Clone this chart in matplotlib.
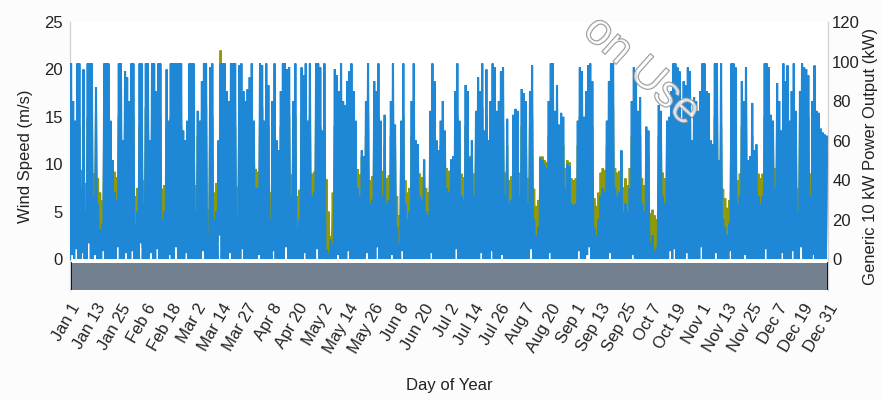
import numpy as np
import matplotlib
matplotlib.use("Agg")
import matplotlib.pyplot as plt
import matplotlib.patheffects as pe

plt.rcParams['font.family'] = ['Liberation Sans', 'DejaVu Sans']

# ---- data (daily readings, days 0..364) ----
# daily peak of power output (kW)
power_hi = [
    99, 80, 70, 99, 99, 36, 96, 24, 99, 99,
    99, 32, 87, 28, 15, 18, 99, 99, 99, 70,
    50, 34, 30, 99, 99, 60, 95, 92, 80, 99,
    99, 18, 24, 99, 99, 28, 99, 99, 60, 99,
    99, 85, 99, 99, 20, 24, 96, 70, 99, 99,
    99, 99, 99, 99, 65, 60, 70, 99, 99, 99,
    24, 75, 70, 90, 99, 99, 12, 97, 99, 20,
    24, 60, 99, 99, 99, 85, 80, 99, 99, 99,
    20, 98, 99, 85, 80, 86, 92, 99, 70, 36,
    36, 99, 98, 70, 99, 88, 20, 80, 99, 60,
    55, 85, 99, 99, 96, 97, 32, 80, 99, 16,
    20, 97, 93, 99, 70, 99, 32, 34, 99, 99,
    97, 65, 99, 5, 3, 10, 8, 96, 93, 85,
    99, 80, 78, 90, 95, 99, 85, 70, 36, 32,
    55, 52, 80, 99, 28, 30, 90, 85, 99, 70,
    32, 73, 28, 30, 80, 99, 68, 16, 8, 70,
    99, 28, 20, 24, 80, 99, 60, 58, 32, 30,
    50, 24, 22, 75, 99, 90, 60, 55, 70, 80,
    65, 36, 34, 50, 52, 85, 99, 70, 32, 30,
    88, 85, 51, 60, 32, 75, 92, 85, 99, 65,
    96, 60, 80, 99, 97, 75, 80, 95, 97, 32,
    71, 28, 30, 73, 76, 75, 32, 86, 84, 80,
    28, 85, 98, 20, 12, 16, 51, 50, 48, 46,
    80, 99, 99, 75, 88, 68, 74, 72, 36, 48,
    47, 28, 27, 28, 70, 97, 95, 72, 85, 98,
    99, 90, 16, 12, 20, 32, 36, 34, 70, 90,
    99, 99, 36, 32, 34, 55, 24, 28, 24, 36,
    80, 97, 95, 75, 82, 28, 24, 67, 65, 8,
    12, 4, 6, 78, 75, 32, 28, 70, 72, 85,
    99, 99, 97, 95, 70, 90, 88, 97, 95, 60,
    82, 80, 75, 85, 99, 99, 85, 84, 60, 58,
    99, 99, 50, 99, 20, 16, 12, 18, 99, 99,
    97, 28, 32, 90, 80, 97, 50, 52, 79, 55,
    58, 32, 28, 32, 99, 99, 97, 73, 70, 36,
    89, 80, 65, 99, 90, 98, 70, 85, 99, 75,
    24, 85, 99, 97, 96, 93, 32, 80, 98, 75,
    74, 66, 64, 63, 62,
]
# daily minimum of power output (kW)
power_lo = [
    0, 2, 0, 5, 0, 0, 3, 0, 0, 8,
    0, 0, 2, 0, 0, 0, 4, 0, 0, 0,
    0, 0, 0, 6, 0, 0, 0, 3, 0, 0,
    4, 0, 0, 0, 8, 0, 0, 0, 0, 3,
    0, 0, 5, 0, 0, 0, 0, 0, 2, 0,
    0, 6, 0, 0, 0, 0, 3, 0, 0, 0,
    0, 0, 0, 0, 4, 0, 0, 0, 0, 0,
    0, 0, 12, 0, 0, 0, 0, 3, 0, 0,
    0, 0, 0, 5, 0, 0, 0, 0, 0, 0,
    0, 2, 0, 0, 0, 0, 0, 0, 4, 0,
    0, 0, 0, 0, 6, 0, 0, 0, 0, 0,
    0, 0, 0, 3, 0, 0, 0, 0, 0, 5,
    0, 0, 0, 0, 0, 0, 0, 0, 0, 2,
    0, 0, 0, 0, 4, 0, 0, 0, 0, 0,
    0, 0, 0, 3, 0, 0, 0, 0, 6, 0,
    0, 0, 0, 0, 0, 2, 0, 0, 0, 0,
    4, 0, 0, 0, 0, 0, 0, 0, 0, 0,
    0, 0, 0, 0, 3, 0, 0, 0, 0, 0,
    0, 0, 0, 0, 0, 0, 5, 0, 0, 0,
    0, 0, 0, 0, 0, 0, 0, 0, 3, 0,
    0, 0, 0, 4, 0, 0, 0, 0, 2, 0,
    0, 0, 0, 0, 0, 0, 0, 0, 0, 0,
    0, 0, 5, 0, 0, 0, 0, 0, 0, 0,
    0, 3, 0, 0, 0, 0, 0, 0, 0, 0,
    0, 0, 0, 0, 0, 4, 0, 0, 0, 2,
    6, 0, 0, 0, 0, 0, 0, 0, 0, 0,
    3, 0, 0, 0, 0, 0, 0, 0, 0, 0,
    0, 2, 0, 0, 0, 0, 0, 0, 0, 0,
    0, 0, 0, 0, 0, 0, 0, 0, 0, 4,
    0, 5, 0, 0, 0, 0, 0, 3, 0, 0,
    0, 0, 0, 0, 6, 0, 0, 0, 0, 0,
    0, 3, 0, 0, 0, 0, 0, 0, 4, 0,
    0, 0, 0, 0, 0, 2, 0, 0, 0, 0,
    0, 0, 0, 0, 0, 5, 0, 0, 0, 0,
    0, 0, 0, 3, 0, 0, 0, 0, 4, 0,
    0, 0, 6, 0, 0, 0, 0, 0, 2, 0,
    0, 0, 0, 0, 0,
]
# daily peak wind speed (m/s)
wind_hi = [
    15, 14, 13, 16, 14, 9.4, 14, 8.0, 15, 14,
    16, 9.0, 15, 8.5, 7.0, 6.2, 14, 15, 16, 12,
    9.8, 9.2, 8.6, 15, 14, 11, 15, 14, 14, 16,
    15, 6.6, 7.5, 14, 15, 8.3, 16, 15, 11, 14,
    15, 14, 16, 15, 7.4, 7.8, 14, 12, 15, 16,
    14, 15, 16, 14, 12, 11, 12, 15, 14, 16,
    7.8, 13, 12, 14, 15, 16, 5.2, 14, 15, 7.0,
    8.0, 11, 22, 15, 14, 14, 13, 16, 15, 14,
    7.6, 15, 16, 14, 13, 14, 15, 14, 12, 9.5,
    9.2, 15, 16, 12, 15, 14, 7.0, 13, 15, 11,
    10.5, 14, 15, 16, 14, 15, 8.9, 13, 15, 6.6,
    7.3, 15, 14, 16, 12, 15, 9.0, 9.2, 16, 15,
    14, 12, 15, 8.4, 5.0, 2.4, 7.0, 14, 14, 13,
    16, 13, 13, 14, 15, 16, 14, 12, 9.5, 8.9,
    10.8, 10.5, 13, 15, 8.3, 8.7, 14, 14, 15, 12,
    9.3, 12, 8.5, 8.8, 13, 15, 11.5, 6.6, 4.6, 12,
    15, 8.3, 7.0, 7.5, 13, 16, 11, 10.5, 9.0, 8.6,
    10.5, 7.5, 7.0, 12.5, 15, 14, 11, 10.5, 12, 13,
    11.5, 9.6, 9.3, 10.5, 10.8, 14, 15, 12, 9.0, 8.6,
    14, 14, 10.8, 11, 9.0, 12.5, 15, 14, 16, 11.5,
    15, 11, 13, 16, 15, 12.5, 13, 15, 14, 9.1,
    12, 8.3, 8.7, 12, 12.5, 12.5, 9.1, 14, 14, 13,
    8.5, 14, 15, 7.4, 5.6, 6.2, 10.8, 10.8, 10.4, 10.2,
    13, 15, 16, 12.5, 14, 11.5, 12.5, 12, 9.6, 10.4,
    10.2, 8.5, 8.3, 8.5, 12, 15, 15, 12, 14, 16,
    15, 14, 6.4, 5.6, 7.0, 9.1, 9.6, 9.4, 12, 14,
    15, 16, 9.6, 9.1, 9.3, 11.4, 7.6, 8.5, 7.8, 9.6,
    13, 15, 14, 12.5, 13, 8.5, 7.8, 11.5, 11, 4.8,
    5.2, 4.6, 4.2, 13, 12.5, 9.1, 8.5, 12, 12, 14,
    15, 16, 15, 14, 12, 14, 14, 15, 15, 11,
    13, 13, 12.5, 14, 16, 15, 14, 14, 11, 10.5,
    15, 16, 10.4, 14, 7.4, 6.4, 5.4, 6.2, 15, 16,
    14, 8.3, 9.0, 14, 13, 15, 10.4, 10.8, 13, 11,
    11, 9.0, 8.5, 9.0, 15, 16, 14, 12, 12, 9.6,
    14, 13, 11.5, 15, 14, 15, 12, 14, 16, 12.5,
    7.4, 14, 15, 15, 14, 15, 9.0, 13, 15, 12.5,
    12.5, 11.5, 11, 11, 11,
]
# daily minimum wind speed (m/s)
wind_lo = [
    2.0, 3.5, 2.5, 4.0, 1.5, 1.0, 3.0, 0.8, 2.2, 5.0,
    2.5, 1.2, 3.0, 1.0, 0.6, 0.9, 4.0, 2.8, 1.8, 2.0,
    1.5, 1.0, 1.2, 5.0, 2.0, 1.6, 2.4, 3.2, 1.8, 2.2,
    4.0, 0.8, 1.0, 2.6, 5.5, 1.2, 2.0, 2.8, 1.5, 3.0,
    2.2, 1.8, 4.2, 2.4, 0.9, 1.1, 2.0, 1.6, 3.0, 2.4,
    2.0, 4.5, 2.2, 1.8, 1.4, 1.6, 3.0, 2.5, 2.0, 2.2,
    0.8, 1.6, 1.4, 2.0, 3.5, 2.2, 0.5, 2.0, 2.4, 0.9,
    1.0, 1.8, 6.5, 2.6, 2.0, 1.8, 1.5, 3.2, 2.4, 2.0,
    0.9, 2.2, 2.6, 4.0, 1.8, 2.0, 2.4, 2.2, 1.6, 1.2,
    1.0, 3.0, 2.4, 1.6, 2.2, 2.0, 0.8, 1.8, 3.5, 1.5,
    1.2, 2.0, 2.5, 2.2, 4.5, 2.4, 1.0, 1.8, 2.2, 0.7,
    0.8, 2.4, 2.0, 3.0, 1.6, 2.2, 1.2, 1.0, 2.6, 4.0,
    2.0, 1.5, 2.2, 0.6, 0.4, 0.3, 0.6, 2.0, 2.2, 2.5,
    2.4, 1.8, 1.6, 2.0, 3.5, 2.6, 2.0, 1.6, 1.2, 1.0,
    1.4, 1.2, 1.8, 3.0, 0.9, 1.0, 2.0, 2.2, 4.5, 1.6,
    1.0, 1.6, 0.9, 1.0, 1.8, 2.4, 1.5, 0.6, 0.5, 1.6,
    3.5, 0.9, 0.8, 0.9, 1.8, 2.4, 1.4, 1.2, 1.0, 1.0,
    1.2, 0.8, 0.8, 1.6, 3.0, 2.0, 1.4, 1.2, 1.6, 1.8,
    1.5, 1.1, 1.0, 1.2, 1.3, 2.0, 4.0, 1.6, 1.0, 0.9,
    2.0, 1.8, 1.2, 1.4, 1.0, 1.6, 2.2, 2.0, 3.0, 1.5,
    2.2, 1.4, 1.8, 3.6, 2.4, 1.6, 1.8, 2.2, 2.5, 1.0,
    1.6, 0.9, 1.0, 1.6, 1.7, 1.6, 1.0, 2.0, 2.0, 1.8,
    0.9, 2.0, 4.0, 0.8, 0.6, 0.7, 1.2, 1.2, 1.1, 1.1,
    1.8, 3.0, 2.4, 1.6, 2.0, 1.5, 1.6, 1.6, 1.1, 1.2,
    1.2, 0.9, 0.9, 0.9, 1.6, 3.5, 2.2, 1.6, 2.0, 2.5,
    4.5, 2.0, 0.7, 0.6, 0.8, 1.0, 1.1, 1.1, 1.6, 2.0,
    3.0, 2.4, 1.1, 1.0, 1.0, 1.3, 0.8, 0.9, 0.8, 1.1,
    1.8, 2.6, 2.2, 1.6, 1.8, 0.9, 0.8, 1.5, 1.4, 0.5,
    0.6, 0.4, 0.4, 1.8, 1.6, 1.0, 0.9, 1.6, 1.6, 3.5,
    2.4, 4.0, 2.2, 2.0, 1.6, 2.0, 2.0, 3.0, 2.2, 1.4,
    1.8, 1.8, 1.6, 2.0, 4.5, 2.4, 2.0, 2.0, 1.4, 1.3,
    2.4, 3.0, 1.2, 2.4, 0.8, 0.7, 0.6, 0.7, 3.5, 2.4,
    2.2, 0.9, 1.0, 2.0, 1.8, 2.6, 1.2, 1.2, 1.8, 1.3,
    1.3, 1.0, 0.9, 1.0, 2.4, 4.0, 2.2, 1.6, 1.6, 1.1,
    2.0, 1.8, 1.5, 3.0, 2.0, 2.2, 1.6, 2.0, 3.5, 1.6,
    0.8, 2.0, 4.5, 2.2, 2.2, 2.0, 1.0, 1.8, 2.5, 1.6,
    1.6, 1.5, 1.4, 1.4, 1.4,
]
tick_labels = ["Jan 1", "Jan 13", "Jan 25", "Feb 6", "Feb 18", "Mar 2", "Mar 14",
               "Mar 27", "Apr 8", "Apr 20", "May 2", "May 14", "May 26", "Jun 8",
               "Jun 20", "Jul 2", "Jul 14", "Jul 26", "Aug 7", "Aug 20", "Sep 1",
               "Sep 13", "Sep 25", "Oct 7", "Oct 19", "Nov 1", "Nov 13", "Nov 25",
               "Dec 7", "Dec 19", "Dec 31"]

# ---- build series: each day -> (minimum, peak) ----
days = np.arange(len(power_hi))
t = np.column_stack([days, days + 0.5]).ravel()
power = np.column_stack([power_lo, power_hi]).ravel()
wind = np.column_stack([wind_lo, wind_hi]).ravel()

BLUE = '#1f88d6'
OLIVE = '#8f9a06'
TXT = '#222222'

fig = plt.figure(figsize=(8.82, 4.00), dpi=100)
fig.patch.set_facecolor('#fcfcfc')
ax = fig.add_axes([0.0794, 0.275, 0.8594, 0.67])
ax.set_facecolor('white')

ax.plot(t, wind, color=OLIVE, lw=1.5, zorder=2, solid_joinstyle='miter')
ax.set_xlim(0, 365)
ax.set_ylim(-3.27, 25)
ax.set_yticks([0, 5, 10, 15, 20, 25])
# bottom grey band
ax.axhspan(-3.27, -0.45, color='#738090', zorder=1, lw=0)
band_frac = (-0.45 + 3.27) / (25 + 3.27)
ax.axvline(0, ymin=0, ymax=band_frac, color='black', lw=2.0, zorder=3)
ax.axvline(365, ymin=0, ymax=band_frac, color='black', lw=2.0, zorder=3)

ax2 = ax.twinx()
ax2.plot(t, power, color=BLUE, lw=1.5, zorder=3, solid_joinstyle='miter')
ax2.set_ylim(-3.27 * 4.8, 120)
ax2.set_yticks([0, 20, 40, 60, 80, 100, 120])

for a in (ax, ax2):
    for s in ('top', 'bottom'):
        a.spines[s].set_visible(False)
    a.spines['left'].set_color('#d0d0d0')
    a.spines['right'].set_color('#d0d0d0')
    a.spines['left'].set_linewidth(0.8)
    a.spines['right'].set_linewidth(0.8)

ax.tick_params(axis='y', length=0, pad=5, labelsize=12, labelcolor=TXT)
ax2.tick_params(axis='y', length=0, pad=3, labelsize=12, labelcolor=TXT)

ax.set_xticks(np.linspace(0, 365, len(tick_labels)))
ax.set_xticklabels(tick_labels, rotation=60, ha='right', rotation_mode='anchor')
ax.tick_params(axis='x', length=0, pad=8, labelsize=12, labelcolor=TXT)

ax.set_xlabel("Day of Year", fontsize=12, color=TXT, labelpad=16)
ax.set_ylabel("Wind Speed (m/s)", fontsize=12, color=TXT, labelpad=8)
ax2.set_ylabel("Generic 10 kW Power Output (kW)", fontsize=12, color=TXT, labelpad=2)

# watermark (partly outside the top of the image, as in the original)
fig.text(0.778, 0.682, "on Use", fontsize=32, rotation=-42,
         rotation_mode='anchor', ha='right', va='baseline', color=(1, 1, 1, 0.55),
         path_effects=[pe.Stroke(linewidth=1.0, foreground='#8a8a8a'), pe.Normal()],
         zorder=10)

fig.savefig("out.png", dpi=100, facecolor=fig.get_facecolor())
